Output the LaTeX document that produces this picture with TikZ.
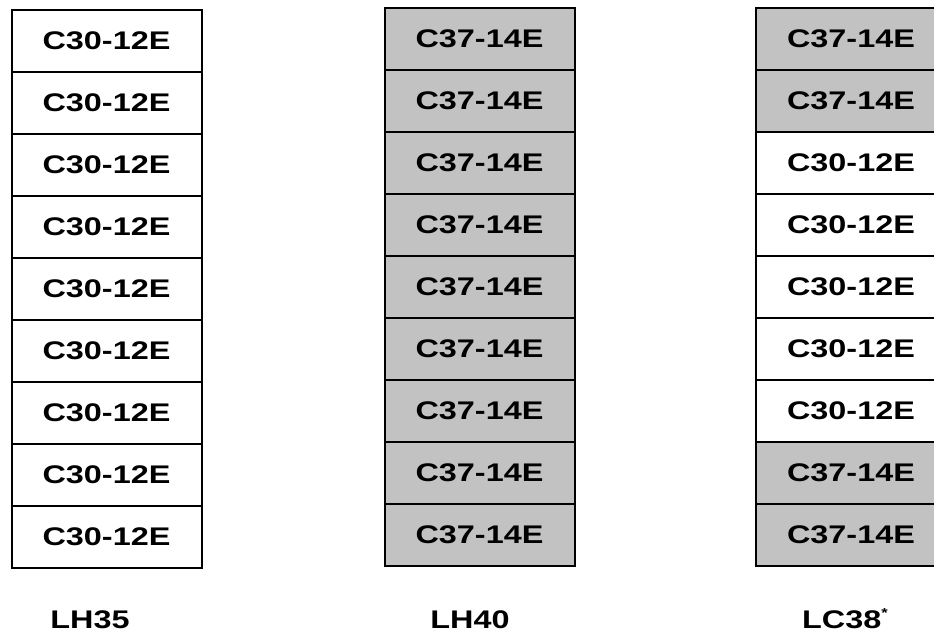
\documentclass[tikz,border=0pt]{standalone}
\usepackage{fontspec}
\newfontfamily\boxfont[FakeStretch=1.27]{Liberation Sans Bold}
\begin{document}
\begin{tikzpicture}[x=1pt,y=-1pt,
  cell/.style={draw=black, line width=2pt, minimum width=190pt, minimum height=62pt,
    inner sep=0pt, font=\boxfont\fontsize{25.5}{25.5}\selectfont, text=black},
  plain/.style={cell, fill=white},
  shaded/.style={cell, fill=black!24},
  collabel/.style={font=\boxfont\fontsize{25.5}{25.5}\selectfont, anchor=base, inner sep=0pt}]
\clip (0,0) rectangle (934,632);
\fill[white] (0,0) rectangle (934,632);
% column LH35
\foreach \i in {1,...,9} {
  \node[plain] (a\i) at (106.5, {10+31+62*(\i-1)}) {C30-12E};
}
% column LH40
\foreach \i in {1,...,9} {
  \node[shaded] (b\i) at (479.5, {8+31+62*(\i-1)}) {C37-14E};
}
% column LC38
\foreach \i in {1,2,8,9} {
  \node[shaded] (c\i) at (851, {8+31+62*(\i-1)}) {C37-14E};
}
\foreach \i in {3,...,7} {
  \node[plain] (c\i) at (851, {8+31+62*(\i-1)}) {C30-12E};
}
\node[collabel] (la) at (90,628) {LH35};
\node[collabel] (lb) at (470,628) {LH40};
\node[collabel, anchor=base west] (lc) at (802,628) {LC38\raisebox{11pt}{\fontsize{13}{13}\selectfont *}};
\end{tikzpicture}
\end{document}
